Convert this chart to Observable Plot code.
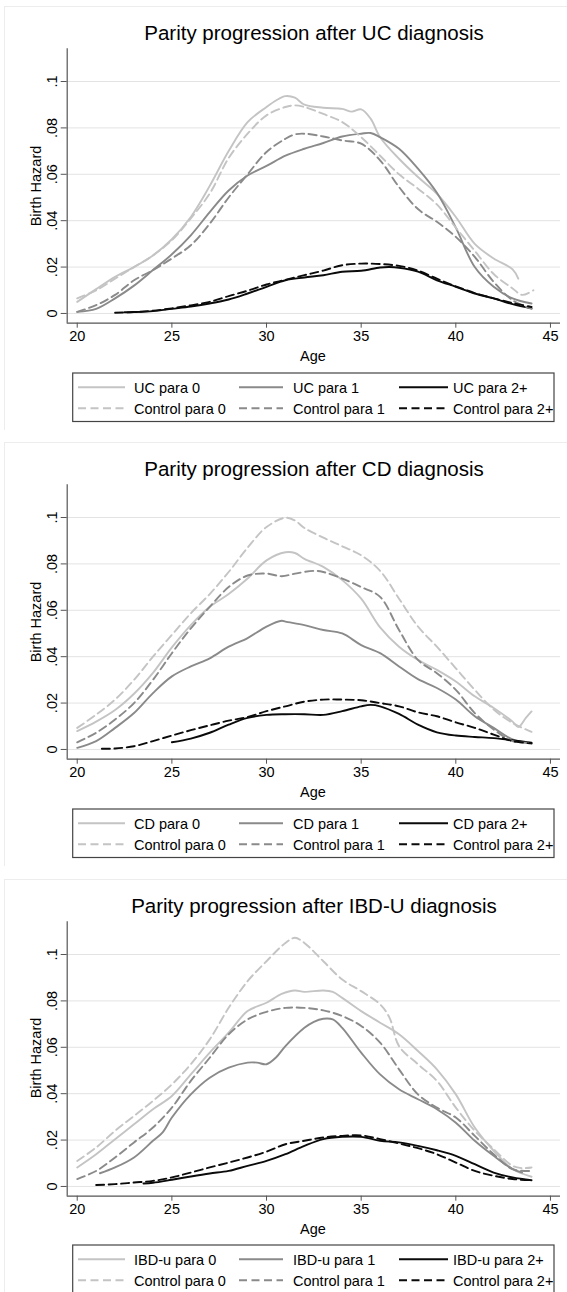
<!DOCTYPE html>
<html><head><meta charset="utf-8">
<script src="https://cdn.jsdelivr.net/npm/d3@7"></script>
<script src="https://cdn.jsdelivr.net/npm/@observablehq/plot@0.6"></script>
<style>
body{margin:0;background:#fff;font-family:"Liberation Sans",Arial,sans-serif;}
#root{position:relative;width:567px;height:1292px;overflow:hidden;background:#fff}
.abs{position:absolute;white-space:nowrap}
</style></head><body><div id="root"></div>
<script>
// ---------- axis ticks / labels ----------
const xTicks = [20, 25, 30, 35, 40, 45];
const yTicks = [0, 0.02, 0.04, 0.06, 0.08, 0.1];
const xDomain = [19.47, 45.53];
const yDomain = [-0.0042, 0.1141];
const panelTitles = ["Parity progression after UC diagnosis", "Parity progression after CD diagnosis", "Parity progression after IBD-U diagnosis"];
const diseaseNames = ["UC", "CD", "IBD-u"];
const parityNames = ["para 0", "para 1", "para 2+"];
const parityColors = ["#c4c4c4", "#8a8a8a", "#0a0a0a"];
const xLabel = "Age";
const yLabel = "Birth Hazard";

// ---------- UC ----------
const uc_p0 = [[20,.005],[21,.0105],[22,.0158],[23,.020],[24,.025],[25,.032],[26,.0416],[27,.055],[28,.070],[29,.0825],[30,.089],[30.5,.0918],[31,.0937],[31.5,.093],[32,.090],[33,.0887],[34,.0882],[34.5,.087],[35,.088],[35.5,.084],[36,.076],[37,.0667],[38,.0588],[39,.0516],[40,.0416],[41,.030],[42,.0237],[43,.019],[43.3,.015]];
const uc_p1 = [[20,.0007],[21,.002],[22,.0065],[23,.012],[24,.0187],[25,.0255],[26,.0337],[27,.0437],[28,.053],[29,.0595],[30,.0636],[31,.068],[32,.071],[33,.0735],[34,.0763],[35,.0775],[35.5,.0778],[36,.076],[37,.071],[38,.0624],[39,.052],[40,.037],[41,.020],[42,.0115],[43,.0065],[44,.0043]];
const uc_p2 = [[22.5,.0005],[23,.0006],[24,.001],[25,.002],[26,.003],[27,.0043],[28,.006],[29,.0086],[30,.0115],[31,.0143],[32,.0155],[33,.0165],[34,.018],[35,.0184],[36,.0198],[36.5,.020],[37,.0197],[38,.018],[39,.0143],[40,.0115],[41,.0086],[42,.0065],[43,.004],[44,.0022]];
const uc_c0 = [[20,.0065],[21,.010],[22,.015],[23,.020],[24,.025],[25,.0316],[26,.041],[27,.0517],[28,.067],[29,.0775],[30,.0854],[31,.089],[31.5,.0897],[32,.089],[33,.086],[34,.0825],[35,.076],[36,.068],[37,.060],[38,.0538],[39,.047],[40,.037],[41,.027],[42,.017],[43,.0108],[43.5,.008],[44.1,.010]];
const uc_c1 = [[20,.0007],[21,.0036],[22,.008],[23,.0143],[24,.0187],[25,.0237],[26,.0294],[27,.0387],[28,.050],[29,.060],[30,.0696],[31,.0753],[31.5,.0772],[32,.0775],[33,.0763],[34,.0746],[35,.0732],[36,.066],[37,.0545],[38,.045],[39,.0395],[40,.033],[41,.0244],[42,.0136],[43,.0057],[44,.002]];
const uc_c2 = [[22,.0003],[23,.0006],[24,.0012],[25,.0022],[26,.0035],[27,.005],[28,.0075],[29,.0098],[30,.0125],[31,.0145],[32,.0165],[33,.0185],[34,.0208],[35,.0215],[36,.0213],[37,.0205],[38,.0185],[39,.015],[40,.0117],[41,.0088],[42,.0065],[43,.0045],[44,.0028]];

// ---------- CD ----------
const cd_p0 = [[20,.0079],[21,.012],[22,.017],[23,.024],[24,.033],[25,.044],[26,.0536],[27,.0615],[28,.067],[29,.0737],[30,.0815],[31,.085],[31.5,.0847],[32,.0822],[33,.0787],[34,.073],[35,.065],[36,.0526],[37,.0443],[38,.0386],[39,.0343],[40,.0293],[41,.0229],[42,.0179],[43,.012],[43.3,.0097],[43.7,.0136],[44,.0164]];
const cd_p1 = [[20,.0007],[21,.0036],[22,.0093],[23,.0157],[24,.0243],[25,.0315],[26,.0358],[27,.0393],[28,.0443],[29,.048],[30,.053],[30.8,.0555],[31,.0551],[32,.0536],[33,.0515],[34,.050],[35,.045],[36,.0415],[37,.0358],[38,.0303],[39,.0265],[40,.0215],[41,.0143],[42,.0093],[43,.0043],[44,.0026]];
const cd_p2 = [[25,.0031],[26,.0047],[27,.0072],[28,.0107],[29,.0136],[30,.0149],[31,.0152],[32,.0152],[33,.0149],[34,.0165],[35,.0186],[35.5,.0192],[36,.0186],[37,.0153],[38,.0107],[39,.0074],[40,.006],[41,.0054],[42,.0049],[43,.004],[44,.0029]];
const cd_c0 = [[20,.0093],[21,.015],[22,.0215],[23,.030],[24,.040],[25,.0494],[26,.0587],[27,.067],[28,.0765],[29,.087],[30,.0959],[31,.0999],[31.5,.0987],[32,.0955],[33,.0913],[34,.0876],[35,.0837],[36,.077],[37,.065],[38,.053],[39,.0443],[40,.035],[41,.0257],[42,.0172],[43,.0114],[44,.0076]];
const cd_c1 = [[20,.0031],[21,.0072],[22,.0129],[23,.020],[24,.030],[25,.0415],[26,.0522],[27,.0615],[28,.070],[29,.075],[30,.0758],[30.8,.0747],[31.5,.0758],[32.5,.077],[33,.0765],[34,.0737],[35,.070],[36,.0658],[37,.0515],[38,.0386],[39,.0329],[40,.0257],[41,.0157],[42,.0086],[43,.0036],[44,.0029]];
const cd_c2 = [[21.3,.0003],[22,.0004],[23,.0014],[24,.0036],[25,.006],[26,.0083],[27,.0104],[28,.0124],[29,.014],[30,.0165],[31,.0186],[32,.0206],[33,.0215],[34,.0215],[35,.0212],[36,.020],[37,.0186],[38,.016],[39,.0143],[40,.0117],[41,.0093],[42,.0064],[43,.0036],[44,.0026]];

// ---------- IBD-U ----------
const ibd_p0 = [[20,.0082],[21,.0139],[22,.0204],[23,.0268],[24,.0333],[25,.039],[26,.0483],[27,.0577],[28,.0663],[29,.0756],[30,.0792],[30.8,.083],[31.5,.0845],[32,.0839],[33,.0845],[33.5,.0839],[34,.0813],[35,.0756],[36,.0706],[37,.0656],[38,.0584],[39,.0505],[40,.0397],[41,.0254],[42,.0154],[43,.0075],[44,.0042]];
const ibd_p1 = [[21.2,.0057],[22,.0082],[23,.0125],[24,.0197],[24.5,.0232],[25,.0297],[26,.0397],[27,.0469],[28,.0512],[29,.0534],[29.5,.0534],[30,.0527],[30.5,.0556],[31,.0605],[32,.0684],[32.5,.071],[33,.0723],[33.5,.072],[34,.0684],[35,.0577],[36,.0483],[37,.0419],[38,.0376],[39,.0333],[40,.0275],[41,.0197],[42,.0132],[43,.0075],[43.5,.006]];
const ibd_p2 = [[23.5,.0013],[24,.0016],[25,.0029],[26,.0043],[27,.0056],[28,.0067],[29,.0089],[30,.011],[31,.0139],[32,.0175],[33,.0204],[34,.0214],[35,.0214],[36,.0197],[37,.019],[38,.0175],[39,.0156],[40,.0132],[41,.0096],[42,.006],[43,.0039],[44,.0027]];
const ibd_c0 = [[20,.011],[21,.0168],[22,.024],[23,.0304],[24,.0369],[25,.044],[26,.0527],[27,.0634],[28,.077],[29,.0885],[30,.0971],[31,.105],[31.5,.1072],[32,.105],[33,.0971],[34,.0892],[35,.0842],[36,.0785],[36.5,.0727],[37,.0605],[38,.0527],[39,.0455],[40,.034],[41,.024],[42,.0161],[43,.0089],[43.5,.0079],[44,.0082]];
const ibd_c1 = [[20,.0032],[21,.0067],[22,.0125],[23,.019],[24,.0254],[25,.034],[26,.0455],[27,.0555],[28,.0656],[29,.072],[30,.0753],[31,.077],[32,.077],[33,.0759],[34,.0735],[35,.0692],[36,.062],[37,.0505],[38,.0397],[39,.034],[40,.0297],[41,.0218],[42,.0139],[43,.0075],[44,.0067]];
const ibd_c2 = [[21,.0006],[22,.001],[23,.0017],[24,.0024],[25,.0039],[26,.006],[27,.0082],[28,.0103],[29,.0125],[30,.015],[31,.0182],[32,.0197],[33,.0211],[34,.0218],[35,.022],[36,.0204],[37,.0185],[38,.0165],[39,.0139],[40,.0103],[41,.0067],[42,.0046],[43,.0032],[44,.0027]];

const panelSeries = [
  [uc_p0, uc_p1, uc_p2, uc_c0, uc_c1, uc_c2],
  [cd_p0, cd_p1, cd_p2, cd_c0, cd_c1, cd_c2],
  [ibd_p0, ibd_p1, ibd_p2, ibd_c0, ibd_c1, ibd_c2]
];

// ---------- layout ----------
const FONT = "'Liberation Sans', Arial, sans-serif";
const panelTops = [0, 436, 872.5];
const DASH = "8,4.5";
const LW = 1.9;
const root = document.getElementById("root");
const fmt = d => d === 0 ? "0" : d3.format(".2~f")(d).replace(/^0/, "");

panelTops.forEach((off, i) => {
  // faint panel frame (top and left edges)
  const fr = document.createElement("div");
  fr.className = "abs";
  fr.style.cssText = `left:4px;top:${off + 6}px;width:575px;height:423px;border-top:1px solid #ededed;border-left:1px solid #ededed;`;
  root.appendChild(fr);

  // title
  const t = document.createElement("div");
  t.className = "abs";
  t.style.cssText = `left:314px;top:${off + 33.3 - 10.25}px;transform:translateX(-50%);font-size:20.5px;line-height:20.5px;color:#000;font-family:${FONT};`;
  t.textContent = panelTitles[i];
  root.appendChild(t);

  const s = panelSeries[i];
  const lines = s.map((data, k) => Plot.line(data, {
    x: d => d[0], y: d => d[1],
    stroke: parityColors[k % 3],
    strokeWidth: LW,
    strokeDasharray: k >= 3 ? DASH : null,
    curve: "catmull-rom"
  }));

  const plot = Plot.plot({
    width: 567, height: 372,
    marginLeft: 66.7, marginRight: 7, marginTop: 48.3, marginBottom: 49.3,
    x: {domain: xDomain},
    y: {domain: yDomain},
    style: {fontFamily: FONT, fontSize: "14.5px", color: "#000", background: "transparent", overflow: "visible"},
    marks: [
      Plot.gridY(yTicks, {stroke: "#e3e3e3", strokeOpacity: 1, strokeWidth: 1}),
      ...lines,
      Plot.ruleX([xDomain[0]], {stroke: "#555", strokeWidth: 1.2}),
      Plot.ruleY([yDomain[0]], {stroke: "#555", strokeWidth: 1.2}),
      Plot.axisY(yTicks, {tickFormat: fmt, tickRotate: -90, tickSize: 6, tickPadding: 4, stroke: "#555", fill: "#000", label: null, fontSize: 14.5}),
      Plot.axisX(xTicks, {tickSize: 5, tickPadding: 3, stroke: "#555", fill: "#000", label: null, fontSize: 14.5})
    ]
  });
  plot.style.position = "absolute";
  plot.style.left = "0px";
  plot.style.top = off + "px";
  root.appendChild(plot);

  // axis titles
  const ax = document.createElement("div");
  ax.className = "abs";
  ax.style.cssText = `left:313px;top:${off + 356 - 8}px;transform:translateX(-50%);font-size:14.5px;line-height:16px;font-family:${FONT};`;
  ax.textContent = xLabel;
  root.appendChild(ax);

  const ay = document.createElement("div");
  ay.className = "abs";
  ay.style.cssText = `left:36px;top:${off + 185.5}px;transform:translate(-50%,-50%) rotate(-90deg);font-size:14.5px;line-height:16px;font-family:${FONT};`;
  ay.textContent = yLabel;
  root.appendChild(ay);

  // legend
  const lx = 72.7, ly = off + 372.7, lw = 481.3, lh = 48.5;
  const ns = "http://www.w3.org/2000/svg";
  const svg = document.createElementNS(ns, "svg");
  svg.setAttribute("width", 567);
  svg.setAttribute("height", 60);
  svg.style.cssText = `position:absolute;left:0;top:${ly - 2}px;overflow:visible;`;
  const rect = document.createElementNS(ns, "rect");
  rect.setAttribute("x", lx); rect.setAttribute("y", 2);
  rect.setAttribute("width", lw); rect.setAttribute("height", lh);
  rect.setAttribute("fill", "#fff"); rect.setAttribute("stroke", "#444"); rect.setAttribute("stroke-width", 1.2);
  svg.appendChild(rect);
  const cols = [[78, 125, 134], [239, 283, 293], [399, 448, 453]];
  const rows = [387 - 372.7 + 2, 408 - 372.7 + 2];
  for (let r = 0; r < 2; r++) {
    for (let c = 0; c < 3; c++) {
      const ln = document.createElementNS(ns, "line");
      ln.setAttribute("x1", cols[c][0]); ln.setAttribute("x2", cols[c][1]);
      ln.setAttribute("y1", rows[r]); ln.setAttribute("y2", rows[r]);
      ln.setAttribute("stroke", parityColors[c]); ln.setAttribute("stroke-width", LW);
      if (r === 1) ln.setAttribute("stroke-dasharray", DASH);
      svg.appendChild(ln);
      const tx = document.createElementNS(ns, "text");
      tx.setAttribute("x", cols[c][2]); tx.setAttribute("y", rows[r]);
      tx.setAttribute("dy", "0.36em");
      tx.setAttribute("font-family", FONT); tx.setAttribute("font-size", "14.5");
      tx.textContent = (r === 0 ? diseaseNames[i] : "Control") + " " + parityNames[c];
      svg.appendChild(tx);
    }
  }
  root.appendChild(svg);
});
</script></body></html>
